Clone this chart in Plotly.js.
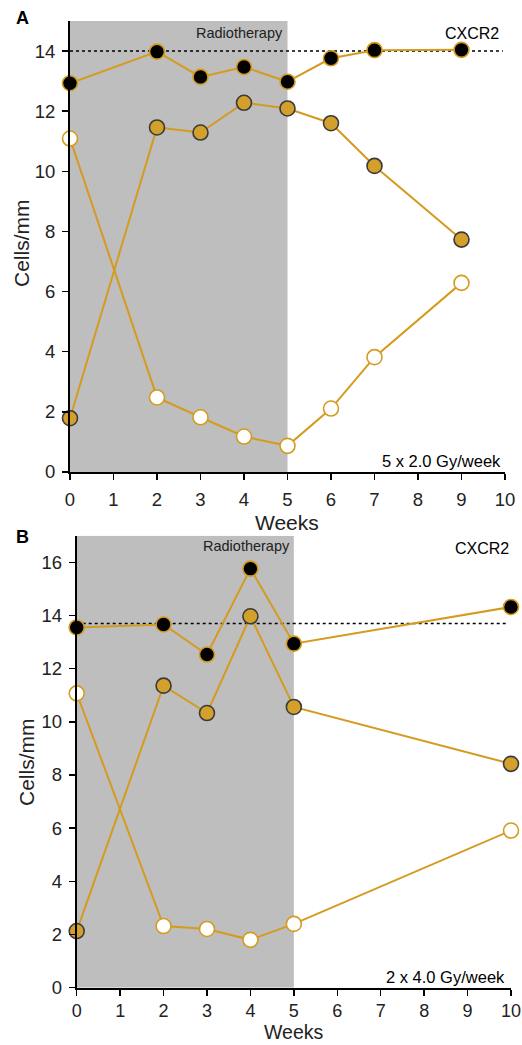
<!DOCTYPE html>
<html>
<head>
<meta charset="utf-8">
<script src="https://cdn.plot.ly/plotly-3.0.1.min.js"></script>
<style>html,body{margin:0;padding:0;background:#fff;}#chart{width:522px;height:1045px;}</style>
</head>
<body>
<div id="chart"></div>
<script>
// Panel A: 5 x 2.0 Gy/week
const weeksA = [0, 2, 3, 4, 5, 6, 7, 9];
const blackA = [12.93, 13.98, 13.14, 13.47, 12.98, 13.76, 14.03, 14.04];
const goldA  = [1.79, 11.46, 11.29, 12.28, 12.09, 11.60, 10.18, 7.73];
const whiteA = [11.09, 2.48, 1.82, 1.18, 0.87, 2.11, 3.82, 6.29];
const refLineA = 14.0;

// Panel B: 2 x 4.0 Gy/week
const weeksB = [0, 2, 3, 4, 5, 10];
const blackB = [13.55, 13.66, 12.53, 15.76, 12.94, 14.32];
const goldB  = [2.13, 11.36, 10.33, 13.97, 10.56, 8.42];
const whiteB = [11.07, 2.32, 2.21, 1.80, 2.40, 5.91];
const refLineB = 13.70;

const xTicks = [0, 1, 2, 3, 4, 5, 6, 7, 8, 9, 10];
const yTicksA = [0, 2, 4, 6, 8, 10, 12, 14];
const yTicksB = [0, 2, 4, 6, 8, 10, 12, 14, 16];

const GOLD = '#D49B1F';
const GOLDFILL = '#D4A02C';
const FONT = 'Liberation Sans, Arial, sans-serif';

function series(x, y, xa, ya, fill, outline) {
  return {
    x: x, y: y, xaxis: xa, yaxis: ya, type: 'scatter', mode: 'lines+markers',
    cliponaxis: false, showlegend: false, hoverinfo: 'skip',
    line: {color: GOLD, width: 2},
    marker: {size: 15, color: fill, line: {color: outline, width: 1.6}}
  };
}

const traces = [
  series(weeksA, whiteA, 'x', 'y', '#ffffff', GOLD),
  series(weeksA, goldA, 'x', 'y', GOLDFILL, '#3a3a3a'),
  series(weeksA, blackA, 'x', 'y', '#000000', GOLD),
  series(weeksB, whiteB, 'x2', 'y2', '#ffffff', GOLD),
  series(weeksB, goldB, 'x2', 'y2', GOLDFILL, '#3a3a3a'),
  series(weeksB, blackB, 'x2', 'y2', '#000000', GOLD)
];

const W = 522, H = 1045;
function xdom(l, r) { return [l / W, r / W]; }
function ydom(top, bottom) { return [1 - bottom / H, 1 - top / H]; }
function px(x) { return x / W; }
function py(y) { return 1 - y / H; }

const axisCommon = {
  showline: true, linecolor: '#000', linewidth: 2,
  ticks: 'outside', ticklen: 6, tickwidth: 1.5, tickcolor: '#000',
  showgrid: false, zeroline: false, fixedrange: true,
  tickfont: {family: FONT, size: 18.5, color: '#222'}
};

const titleFont = {family: FONT, size: 21, color: '#222'};

const layout = {
  width: W, height: H,
  margin: {l: 0, r: 0, t: 0, b: 0},
  paper_bgcolor: '#fff', plot_bgcolor: 'rgba(0,0,0,0)',
  font: {family: FONT, color: '#222'},
  xaxis: Object.assign({}, axisCommon, {
    domain: xdom(70, 505), anchor: 'y', range: [0, 10], tickvals: xTicks, ticklabelstandoff: 4
  }),
  yaxis: Object.assign({}, axisCommon, {
    domain: ydom(21, 472), anchor: 'x', range: [0, 15], tickvals: yTicksA, ticklabelstandoff: 3
  }),
  xaxis2: Object.assign({}, axisCommon, {
    domain: xdom(76.7, 511), anchor: 'y2', range: [0, 10], tickvals: xTicks, ticklabelstandoff: 0,
    tickfont: {family: FONT, size: 18, color: '#222'}
  }),
  yaxis2: Object.assign({}, axisCommon, {
    domain: ydom(535.7, 987.7), anchor: 'x2', range: [0, 17], tickvals: yTicksB, ticklabelstandoff: 3
  }),
  shapes: [
    {type: 'rect', xref: 'x', yref: 'y', x0: 0, x1: 5, y0: 0, y1: 15, fillcolor: '#BEBEBE', line: {width: 0}, layer: 'below'},
    {type: 'line', xref: 'x', yref: 'y', x0: 0, x1: 9.95, y0: refLineA, y1: refLineA, line: {color: '#000', width: 1.5, dash: 'dot'}, layer: 'below'},
    {type: 'rect', xref: 'x2', yref: 'y2', x0: 0, x1: 5, y0: 0, y1: 17, fillcolor: '#BEBEBE', line: {width: 0}, layer: 'below'},
    {type: 'line', xref: 'x2', yref: 'y2', x0: 0, x1: 9.92, y0: refLineB, y1: refLineB, line: {color: '#000', width: 1.5, dash: 'dot'}, layer: 'below'}
  ],
  annotations: [
    {text: '<b>A</b>', xref: 'paper', yref: 'paper', x: px(14), y: py(18), xanchor: 'left', yanchor: 'middle', showarrow: false, font: {family: FONT, size: 18, color: '#000'}},
    {text: '<b>B</b>', xref: 'paper', yref: 'paper', x: px(14), y: py(537), xanchor: 'left', yanchor: 'middle', showarrow: false, font: {family: FONT, size: 18, color: '#000'}},
    // axis titles
    {text: 'Weeks', xref: 'paper', yref: 'paper', x: px(287), y: py(522), xanchor: 'center', yanchor: 'middle', showarrow: false, font: titleFont},
    {text: 'Cells/mm', xref: 'paper', yref: 'paper', x: px(21), y: py(243), xanchor: 'center', yanchor: 'middle', textangle: -90, showarrow: false, font: titleFont},
    {text: 'Weeks', xref: 'paper', yref: 'paper', x: px(293), y: py(1045), xanchor: 'center', yanchor: 'bottom', showarrow: false, font: {family: FONT, size: 19.5, color: '#222'}},
    {text: 'Cells/mm', xref: 'paper', yref: 'paper', x: px(26), y: py(762), xanchor: 'center', yanchor: 'middle', textangle: -90, showarrow: false, font: titleFont},
    // panel texts
    {text: 'Radiotherapy', xref: 'x', yref: 'y', x: 4.95, y: 14.6, xanchor: 'right', yanchor: 'middle', showarrow: false, font: {family: FONT, size: 14.5, color: '#222'}},
    {text: 'CXCR2', xref: 'x', yref: 'y', x: 9.9, y: 14.6, xanchor: 'right', yanchor: 'middle', showarrow: false, font: {family: FONT, size: 16, color: '#000'}},
    {text: '5 x 2.0 Gy/week', xref: 'x', yref: 'y', x: 9.95, y: 0.0, xanchor: 'right', yanchor: 'bottom', showarrow: false, font: {family: FONT, size: 16.5, color: '#000'}},
    {text: 'Radiotherapy', xref: 'x2', yref: 'y2', x: 4.95, y: 16.6, xanchor: 'right', yanchor: 'middle', showarrow: false, font: {family: FONT, size: 14.5, color: '#222'}},
    {text: 'CXCR2', xref: 'x2', yref: 'y2', x: 10, y: 16.5, xanchor: 'right', yanchor: 'middle', showarrow: false, font: {family: FONT, size: 16, color: '#000'}},
    {text: '2 x 4.0 Gy/week', xref: 'x2', yref: 'y2', x: 9.9, y: 0.0, xanchor: 'right', yanchor: 'bottom', showarrow: false, font: {family: FONT, size: 16.5, color: '#000'}}
  ]
};

Plotly.newPlot('chart', traces, layout, {staticPlot: true, displayModeBar: false});
</script>
</body>
</html>
